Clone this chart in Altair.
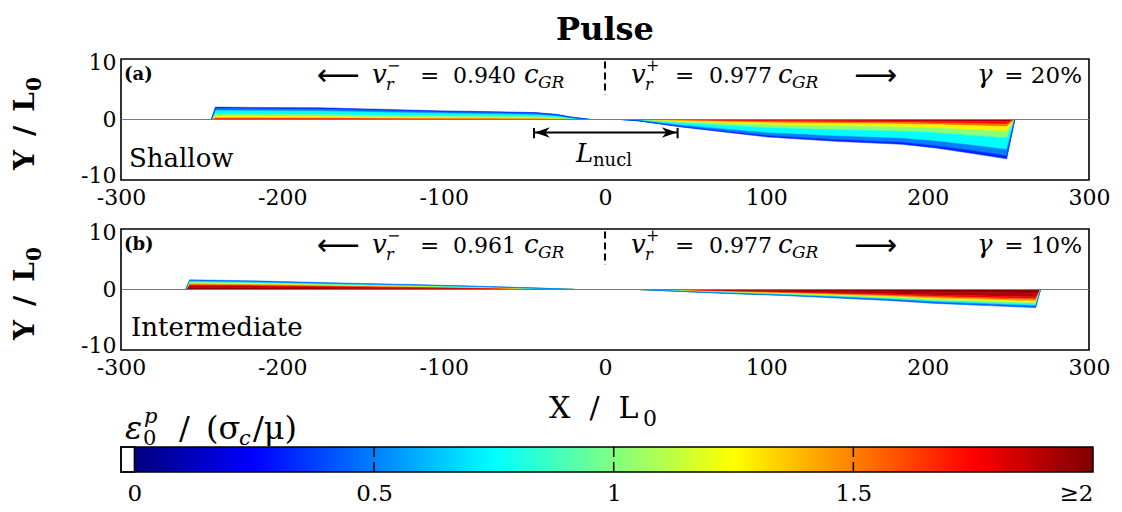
import altair as alt
import pandas as pd

SERIF = "DejaVu Serif"
ARROWS = "DejaVu Sans"
NB = "\u00a0"   # non-collapsing space for wide math spacing

# ---- plastic-zone outlines (outer edge of the damaged region), units of L0 ----
A_LEFT_X = [-244, -241.5, -220, -178, -140, -105, -70, -43, -30, -22, -9]
A_LEFT_EDGE = [0, 2.05, 2.0, 1.95, 1.7, 1.45, 1.3, 1.15, 0.85, 0.45, 0]
A_RIGHT_X = [10, 20, 46, 75, 101, 143, 184, 205, 225, 249, 254]
A_RIGHT_EDGE = [0, -0.2, -1.2, -2.1, -2.9, -3.6, -4.1, -4.7, -5.5, -6.5, 0]

B_LEFT_X = [-260, -257.5, -220, -182, -150, -120, -78, -37, -18]
B_LEFT_EDGE = [0, 1.6, 1.45, 1.2, 1.0, 0.83, 0.55, 0.2, 0]
B_RIGHT_X = [21, 40, 75, 110, 143, 175, 205, 240, 267, 270]
B_RIGHT_EDGE = [0, -0.25, -0.66, -1.0, -1.4, -1.8, -2.3, -2.7, -3.0, 0]

# plastic strain across the zone: fraction of local zone width -> eps_p / (sigma_c/mu)
A_FRAC = [0, 0.06, 0.12, 0.18, 0.30, 0.47, 0.76, 0.92, 1.0]
A_STRAIN = [2.0, 1.8, 1.65, 1.4, 1.15, 0.9, 0.6, 0.4, 0.25]
B_FRAC = [0, 0.2, 0.4, 0.5, 0.58, 0.66, 0.74, 0.82, 0.9, 1.0]
B_STRAIN = [2.0, 1.95, 1.85, 1.7, 1.5, 1.3, 1.1, 0.85, 0.6, 0.3]

# rupture speeds and annotations
SPEED_LEFT = ["0.940", "0.961"]
SPEED_RIGHT = ["0.977", "0.977"]
GAMMA = ["20%", "10%"]
PANEL_TAG = ["(a)", "(b)"]
DEPTH = ["Shallow", "Intermediate"]
L_NUCL = [-44, 45]

X_TICKS = [-300, -200, -100, 0, 100, 200, 300]
Y_TICKS = [-10, 0, 10]
CBAR_TICKS = [0.5, 1.0, 1.5]
CBAR_LABELS = [0, 0.5, 1, 1.5, 2]

# jet colour map over 0 .. 2
JET_POS = [0, 0.125, 0.375, 0.625, 0.875, 1.0]
JET_COL = ["#00007F", "#0000FF", "#00FFFF", "#FFFF00", "#FF0000", "#7F0000"]
STRAIN_MAX = 2.0

W, H = 968, 121
ONE = pd.DataFrame({"k": [0]})
FRAME = alt.ViewBackground(stroke="black", strokeWidth=1.6)

color_scale = alt.Scale(domain=[p * STRAIN_MAX for p in JET_POS], range=JET_COL,
                        interpolate="rgb", clamp=True)
x_scale = alt.Scale(domain=[-300, 300], nice=False, zero=False)
y_scale = alt.Scale(domain=[-10, 10], nice=False, zero=False)

minus_expr = "datum.value < 0 ? '-' + abs(datum.value) : '' + datum.value"


def wedge_rows(side, xs, edge, fracs, strains):
    rows = []
    for k in range(len(fracs) - 1):
        s = 0.5 * (strains[k] + strains[k + 1])
        for x, e in zip(xs, edge):
            rows.append({"band": f"{side}{k}", "x": x, "y0": e * fracs[k],
                         "y1": e * fracs[k + 1], "strain": s})
    return rows


def text(t, x, y, size, style="normal", weight="normal", font=SERIF,
         align="left", baseline="alphabetic", angle=0):
    return alt.Chart(ONE).mark_text(
        text=t, font=font, fontSize=size, fontStyle=style, fontWeight=weight,
        align=align, baseline=baseline, angle=angle, color="black"
    ).encode(x=alt.value(x), y=alt.value(y))


def panel(i, xs_l, ed_l, xs_r, ed_r, fracs, strains, with_x_title):
    df = pd.DataFrame(wedge_rows("L", xs_l, ed_l, fracs, strains)
                      + wedge_rows("R", xs_r, ed_r, fracs, strains))
    x_axis = alt.Axis(values=X_TICKS, labelExpr=minus_expr, ticks=False, domain=False,
                      grid=False, labelFont=SERIF, labelFontSize=22, labelPadding=7,
                      labelColor="black", labelFlush=False, labelOverlap=False,
                      title=None)
    y_axis = alt.Axis(values=Y_TICKS, labelExpr=minus_expr, ticks=False, domain=False,
                      grid=False, labelFont=SERIF, labelFontSize=22, labelPadding=5,
                      labelColor="black", labelFlush=False, labelOverlap=False,
                      labelOffset={"condition": [{"test": "datum.value == 10", "value": 3},
                                                 {"test": "datum.value == -10", "value": -5}],
                                   "value": 0},
                      title=None)
    wedges = alt.Chart(df).mark_area(interpolate="linear", strokeWidth=0.5).encode(
        x=alt.X("x:Q", scale=x_scale, axis=x_axis),
        y=alt.Y("y0:Q", scale=y_scale, axis=y_axis),
        y2="y1:Q",
        color=alt.Color("strain:Q", scale=color_scale, legend=None),
        stroke=alt.Stroke("strain:Q", scale=color_scale, legend=None),
        detail="band:N",
    )
    zero = alt.Chart(ONE).mark_rule(color="#7a7a7a", strokeWidth=1.2).encode(
        y=alt.Y(datum=0))
    split = alt.Chart(ONE).mark_rule(color="black", strokeWidth=2, strokeDash=[7, 4]).encode(
        x=alt.X(datum=0), y=alt.Y(datum=9.6), y2=alt.Y2(datum=4.1))

    base = 24
    layers = [
        wedges, zero, split,
        # axis title Y / L0, written upwards
        text("Y\u2002/\u2002L", -87, 111, 28, weight="bold", angle=270),
        text("0", -80, 32, 20, weight="bold", angle=270),
        text(PANEL_TAG[i], 3, 16, 18, weight="bold", baseline="middle"),
        text("⟵", 196, 17, 30, font=ARROWS, baseline="middle"),
        text("v", 251, base, 26, style="italic"),
        text("−", 266, 7, 16, baseline="middle"),
        text("r", 265, base + 7, 16, style="italic"),
        text("=", 299, base, 23),
        text(SPEED_LEFT[i], 332, base, 22),
        text("c", 403, base, 26, style="italic"),
        text("GR", 417, base + 5, 17, style="italic"),
        text("v", 510, base, 26, style="italic"),
        text("+", 525, 7, 16, baseline="middle"),
        text("r", 524, base + 7, 16, style="italic"),
        text("=", 554, base, 23),
        text(SPEED_RIGHT[i], 588, base, 22),
        text("c", 657, base, 26, style="italic"),
        text("GR", 671, base + 5, 17, style="italic"),
        text("⟶", 733, 17, 30, font=ARROWS, baseline="middle"),
        text("γ", 856, base, 26, style="italic"),
        text("= " + GAMMA[i], 961, base, 23, align="right"),
        text(DEPTH[i], 8 if i == 0 else 10, 100 if i == 0 else 99, 26, baseline="middle"),
    ]
    if with_x_title:
        layers += [
            text(f"X{NB}{NB}/{NB}{NB}L", 428, 189, 30),
            text("0", 522, 197, 22),
        ]
    if i == 0:
        lo, hi = L_NUCL
        y_arrow = -2.15
        head_l = "M0,0 L2,-0.7 L1.4,0 L2,0.7 Z"
        head_r = "M0,0 L-2,-0.7 L-1.4,0 L-2,0.7 Z"
        layers += [
            alt.Chart(ONE).mark_rule(color="black", strokeWidth=2).encode(
                x=alt.X(datum=lo), x2=alt.X2(datum=hi), y=alt.Y(datum=y_arrow)),
            alt.Chart(ONE).mark_rule(color="black", strokeWidth=2).encode(
                x=alt.X(datum=lo), y=alt.Y(datum=-1.4), y2=alt.Y2(datum=-3.1)),
            alt.Chart(ONE).mark_rule(color="black", strokeWidth=2).encode(
                x=alt.X(datum=hi), y=alt.Y(datum=-1.4), y2=alt.Y2(datum=-3.1)),
            alt.Chart(ONE).mark_point(shape=head_l, filled=True, size=225, color="black",
                                      opacity=1).encode(x=alt.X(datum=lo + 0.5),
                                                        y=alt.Y(datum=y_arrow)),
            alt.Chart(ONE).mark_point(shape=head_r, filled=True, size=225, color="black",
                                      opacity=1).encode(x=alt.X(datum=hi - 0.5),
                                                        y=alt.Y(datum=y_arrow)),
            text("L", 455, 103, 26, style="italic"),
            text("nucl", 472, 107, 18),
        ]
    return alt.layer(*layers).properties(width=W, height=H, view=FRAME)


panel_a = panel(0, A_LEFT_X, A_LEFT_EDGE, A_RIGHT_X, A_RIGHT_EDGE, A_FRAC, A_STRAIN, False)
panel_b = panel(1, B_LEFT_X, B_LEFT_EDGE, B_RIGHT_X, B_RIGHT_EDGE, B_FRAC, B_STRAIN, True)

# ---- colour bar ----
CB_W, CB_H = 972, 73
BAR_TOP = 48
cb_scale = alt.Scale(domain=[-0.028, STRAIN_MAX], nice=False, zero=False)
cb_axis = alt.Axis(values=CBAR_LABELS,
                   labelExpr="datum.value == 2 ? '≥2' : '' + datum.value",
                   labelAlign={"condition": {"test": "datum.value == 2", "value": "right"},
                               "value": "center"},
                   ticks=False, domain=False, grid=False, labelFont=SERIF, labelFontSize=23,
                   labelPadding=10, labelColor="black", labelFlush=False,
                   labelOverlap=False, title=None)
jet_fill = alt.Gradient(gradient="linear", x1=0, x2=1, y1=0, y2=0,
                        stops=[alt.GradientStop(color=c, offset=p)
                               for p, c in zip(JET_POS, JET_COL)])
bar = alt.Chart(pd.DataFrame({"lo": [0.0], "hi": [STRAIN_MAX]})).mark_rect(
    fill=jet_fill).encode(
    x=alt.X("lo:Q", scale=cb_scale, axis=cb_axis), x2="hi:Q",
    y=alt.value(BAR_TOP), y2=alt.value(CB_H))
under = alt.Chart(pd.DataFrame({"lo": [-0.028], "hi": [0.0]})).mark_rect(
    fill="white", stroke="black", strokeWidth=1.5).encode(
    x=alt.X("lo:Q", scale=cb_scale), x2="hi:Q", y=alt.value(BAR_TOP), y2=alt.value(CB_H))
outline = alt.Chart(pd.DataFrame({"lo": [-0.028], "hi": [STRAIN_MAX]})).mark_rect(
    fillOpacity=0, stroke="black", strokeWidth=1.5).encode(
    x=alt.X("lo:Q", scale=cb_scale), x2="hi:Q", y=alt.value(BAR_TOP), y2=alt.value(CB_H))
ticks = alt.Chart(pd.DataFrame({"v": CBAR_TICKS})).mark_rule(
    color="black", strokeWidth=1.5, strokeDash=[10, 5]).encode(
    x=alt.X("v:Q", scale=cb_scale), y=alt.value(BAR_TOP), y2=alt.value(CB_H))

cb_title = [
    text("ε", 4, 40, 32, style="italic"),
    text("p", 23, 24, 21, style="italic"),
    text("0", 22, 46, 21),
    text("/", 58, 40, 32),
    text("(σ", 85, 40, 32),
    text("c", 118, 46, 21, style="italic"),
    text("/μ)", 132, 40, 32),
]
colorbar = alt.layer(bar, under, ticks, outline, *cb_title).properties(
    width=CB_W, height=CB_H, view=alt.ViewBackground(stroke="transparent"))

chart = alt.vconcat(panel_a, panel_b, colorbar, spacing=49, bounds="flush").properties(
    title=alt.TitleParams("Pulse", font=SERIF, fontSize=32, fontWeight="bold",
                          anchor="middle", color="black", offset=3, dx=44),
    padding={"left": 11, "top": 14, "right": 5, "bottom": 5},
).configure(background="white").configure_view(stroke="black", strokeWidth=1.6)

chart.save("out.html", embed_options={"renderer": "svg", "actions": False})
